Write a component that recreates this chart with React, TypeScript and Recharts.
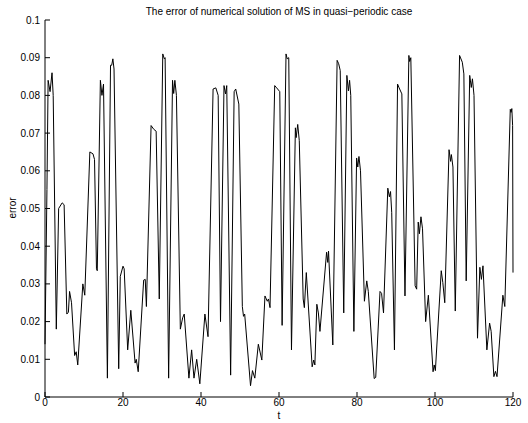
import React from 'react';
import { LineChart, Line, XAxis, YAxis } from 'recharts';

const tValues = [
  0, 0.5, 0.8, 1.3, 1.8, 2.1, 2.9, 3.5, 4.4, 4.9, 5.6, 6.0, 6.3, 6.8, 7.6, 8.0, 8.4, 9.7, 10.2,
  11.5, 12.3, 12.7, 13.2, 13.4, 14.2, 14.6, 15.0, 16.0, 16.8, 17.1, 17.4, 17.7, 18.9, 19.3, 20.0,
  20.3, 21.2, 22.0, 23.1, 23.4, 23.9, 25.3, 25.7, 26.0, 27.2, 27.9, 28.5, 29.3, 30.2, 30.6, 30.8,
  31.7, 32.7, 33.0, 33.3, 33.7, 34.7, 35.3, 35.7, 36.9, 37.6, 38.2, 38.9, 39.7, 41.0, 41.8, 43.1,
  43.8, 44.4, 45.0, 45.9, 46.3, 46.6, 47.6, 48.5, 48.9, 49.7, 50.6, 50.9, 51.2, 52.7, 53.2, 53.8,
  54.7, 55.6, 56.4, 57.0, 57.3, 57.7, 58.9, 59.4, 60.2, 60.8, 61.8, 62.1, 62.5, 63.2, 64.2, 64.4,
  64.8, 65.2, 66.2, 66.5, 67.0, 68.5, 68.9, 69.2, 69.7, 70.1, 70.5, 72.2, 72.5, 72.7, 73.8, 74.9,
  75.3, 75.7, 76.6, 77.4, 77.8, 78.1, 78.4, 79.2, 79.9, 80.2, 80.5, 80.9, 81.9, 82.5, 82.9, 84.4,
  84.8, 85.9, 86.3, 86.8, 87.9, 88.3, 88.6, 88.9, 89.6, 90.4, 90.8, 91.5, 92.3, 93.3, 93.5, 93.8,
  94.9, 95.3, 95.7, 96.0, 96.4, 96.8, 97.6, 98.3, 99.5, 99.8, 100.1, 101.6, 102.0, 102.5, 103.6,
  104.0, 104.2, 104.6, 105.2, 106.3, 107.0, 107.4, 108.0, 108.9, 109.3, 109.6, 110.0, 110.9, 111.5,
  111.9, 112.3, 113.3, 114.0, 114.4, 115.1, 115.5, 115.9, 117.4, 117.9, 119.3, 119.5, 119.7, 119.9,
  120.0,
];

const errorValues = [
  0.014, 0.055, 0.084, 0.081, 0.086, 0.08, 0.018, 0.05, 0.0515, 0.051, 0.022, 0.0225, 0.028, 0.025,
  0.011, 0.012, 0.0085, 0.03, 0.027, 0.065, 0.0645, 0.063, 0.034, 0.0335, 0.084, 0.08, 0.083, 0.005,
  0.088, 0.088, 0.0897, 0.087, 0.0075, 0.032, 0.0347, 0.034, 0.0125, 0.023, 0.009, 0.01, 0.0067,
  0.031, 0.0312, 0.024, 0.072, 0.071, 0.0705, 0.026, 0.091, 0.0897, 0.09, 0.005, 0.084, 0.0805,
  0.084, 0.08, 0.018, 0.021, 0.022, 0.005, 0.0125, 0.005, 0.01, 0.0035, 0.022, 0.016, 0.0817,
  0.082, 0.08, 0.02, 0.0826, 0.0804, 0.0826, 0.0058, 0.081, 0.0817, 0.0777, 0.024, 0.0214, 0.022,
  0.003, 0.007, 0.005, 0.014, 0.0098, 0.0268, 0.0254, 0.026, 0.0237, 0.0826, 0.082, 0.081, 0.019,
  0.091, 0.0897, 0.09, 0.0125, 0.0714, 0.0688, 0.0723, 0.068, 0.026, 0.0237, 0.033, 0.008, 0.0098,
  0.0085, 0.0246, 0.0223, 0.0174, 0.0384, 0.0357, 0.0387, 0.0138, 0.0893, 0.0884, 0.0866, 0.0223,
  0.0853, 0.0812, 0.084, 0.08, 0.0174, 0.0634, 0.061, 0.0638, 0.06, 0.0254, 0.0308, 0.028, 0.0049,
  0.0052, 0.028, 0.0275, 0.0223, 0.0554, 0.0531, 0.0545, 0.049, 0.0125, 0.083, 0.082, 0.0804,
  0.0268, 0.0906, 0.089, 0.09, 0.0295, 0.0286, 0.0464, 0.0433, 0.0478, 0.0446, 0.02, 0.027, 0.0067,
  0.0085, 0.007, 0.0335, 0.0304, 0.025, 0.0656, 0.0625, 0.0643, 0.061, 0.0228, 0.0906, 0.0888,
  0.0857, 0.0308, 0.0853, 0.0821, 0.0844, 0.08, 0.0156, 0.0344, 0.0312, 0.0348, 0.0125, 0.0196,
  0.0174, 0.0054, 0.0068, 0.0054, 0.027, 0.024, 0.0763, 0.0755, 0.0765, 0.072, 0.033,
];

const xTicks = [0, 20, 40, 60, 80, 100, 120];
const yTicks = [0, 0.01, 0.02, 0.03, 0.04, 0.05, 0.06, 0.07, 0.08, 0.09, 0.1];

const titleText = 'The error of numerical solution of MS in quasi\u2212periodic case';
const xLabel = 't';
const yLabel = 'error';

const data = tValues.map((t, i) => ({ t, error: errorValues[i] }));

const FONT = '"Liberation Sans", Arial, Helvetica, sans-serif';
const tickStyle = { fill: '#000', fontSize: 10, fontFamily: FONT };

export default function App() {
  return (
    <div style={{ position: 'absolute', left: 0, top: 0, width: 528, height: 423, background: '#fff' }}>
      <LineChart width={528} height={423} data={data} margin={{ top: 20, right: 15, left: 0, bottom: 0 }}>
        <XAxis
          xAxisId="b"
          dataKey="t"
          type="number"
          domain={[0, 120]}
          ticks={xTicks}
          interval={0}
          height={26}
          tickSize={-5}
          tickMargin={7}
          stroke="#000"
          tick={tickStyle}
          label={{ value: xLabel, position: 'insideBottom', offset: 4, fill: '#000', fontSize: 10, fontFamily: FONT }}
        />
        <XAxis
          xAxisId="top"
          orientation="top"
          dataKey="t"
          type="number"
          domain={[0, 120]}
          ticks={xTicks}
          interval={0}
          height={0}
          mirror
          tickSize={5}
          tick={false}
          stroke="#000"
        />
        <YAxis
          yAxisId="l"
          type="number"
          domain={[0, 0.1]}
          ticks={yTicks}
          interval={0}
          width={45}
          tickSize={-5}
          tickMargin={10}
          stroke="#000"
          tick={tickStyle}
          tickFormatter={(v: number) => String(Number(v.toFixed(2)))}
        />
        <YAxis
          yAxisId="r"
          orientation="right"
          type="number"
          domain={[0, 0.1]}
          ticks={yTicks}
          interval={0}
          width={0}
          mirror
          tickSize={5}
          tick={false}
          stroke="#000"
        />
        <Line
          xAxisId="b"
          yAxisId="l"
          type="linear"
          dataKey="error"
          stroke="#000"
          strokeWidth={1}
          dot={false}
          activeDot={false}
          isAnimationActive={false}
        />
      </LineChart>
      <svg width={528} height={423} style={{ position: 'absolute', left: 0, top: 0, pointerEvents: 'none' }}>
        <text x={279} y={15} textAnchor="middle" fontSize={10} fontFamily={FONT} fill="#000">
          {titleText}
        </text>
        <text
          x={15.5}
          y={208}
          textAnchor="middle"
          fontSize={10}
          fontFamily={FONT}
          fill="#000"
          transform="rotate(-90 15.5 208)"
        >
          {yLabel}
        </text>
      </svg>
    </div>
  );
}
